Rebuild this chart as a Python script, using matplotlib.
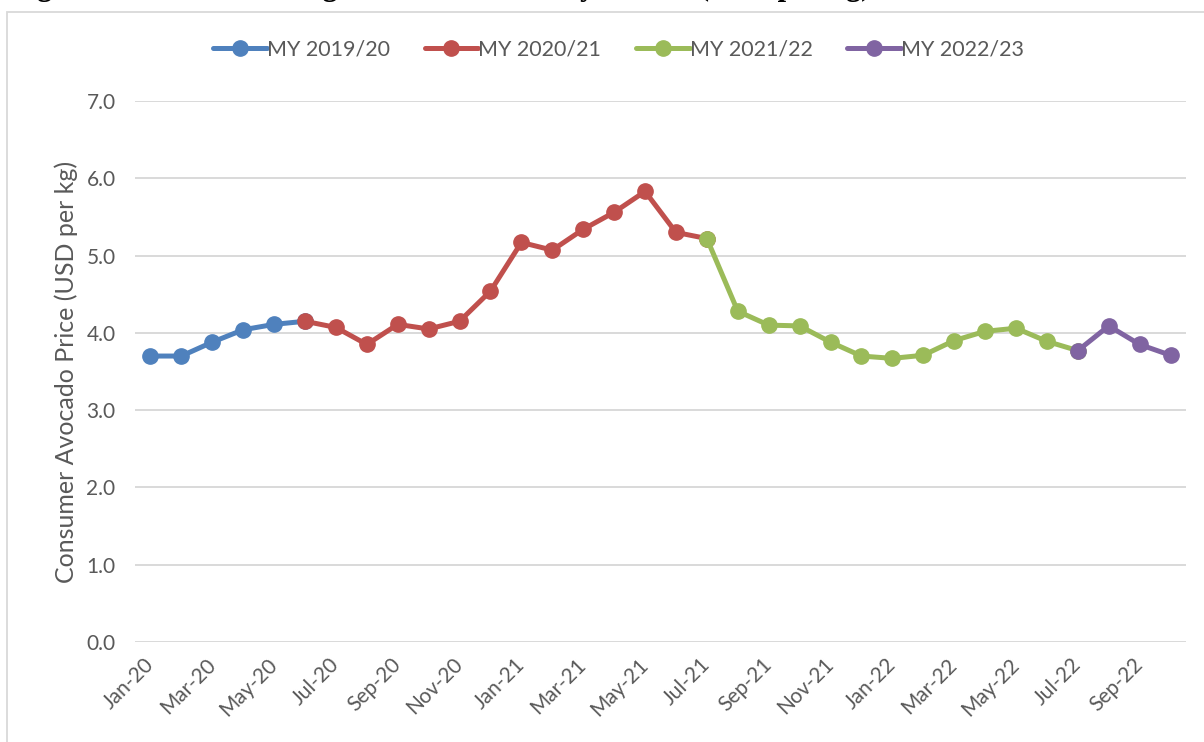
import numpy as np
import matplotlib.pyplot as plt
import matplotlib.transforms as mtransforms
from matplotlib.patches import Rectangle

plt.rcParams['font.family'] = ['Lato', 'DejaVu Sans']

# months Jan-20 .. Oct-22
months = ['Jan-20', 'Feb-20', 'Mar-20', 'Apr-20', 'May-20', 'Jun-20', 'Jul-20', 'Aug-20',
          'Sep-20', 'Oct-20', 'Nov-20', 'Dec-20', 'Jan-21', 'Feb-21', 'Mar-21', 'Apr-21',
          'May-21', 'Jun-21', 'Jul-21', 'Aug-21', 'Sep-21', 'Oct-21', 'Nov-21', 'Dec-21',
          'Jan-22', 'Feb-22', 'Mar-22', 'Apr-22', 'May-22', 'Jun-22', 'Jul-22', 'Aug-22',
          'Sep-22', 'Oct-22']

# consumer price per marketing year (USD per kg); each year starts on the last month of the previous one
my_2019_20 = [3.70, 3.70, 3.88, 4.04, 4.11, 4.15]
my_2020_21 = [4.15, 4.07, 3.85, 4.11, 4.05, 4.15, 4.54, 5.17, 5.07, 5.34, 5.56, 5.83, 5.30, 5.22]
my_2021_22 = [5.22, 4.28, 4.10, 4.09, 3.88, 3.70, 3.67, 3.71, 3.90, 4.02, 4.06, 3.89, 3.77]
my_2022_23 = [3.77, 4.09, 3.85, 3.71]

series_labels = ['MY 2019/20', 'MY 2020/21', 'MY 2021/22', 'MY 2022/23']
series_values = [my_2019_20, my_2020_21, my_2021_22, my_2022_23]
series_start = ['Jan-20', 'Jun-20', 'Jul-21', 'Jul-22']
colors = ['#4F81BD', '#C0504D', '#9BBB59', '#8064A2']

fig = plt.figure(figsize=(12.04, 7.42), dpi=100)
ax = fig.add_axes([135 / 1204, 1 - 642 / 742, (1186 - 135) / 1204, (642 - 101) / 742])

for lab, vals, start, c in zip(series_labels, series_values, series_start, colors):
    i0 = months.index(start)
    x = np.arange(i0, i0 + len(vals))
    ax.plot(x, vals, color=c, lw=3.6, marker='o', ms=11, label=lab, solid_capstyle='round')

ax.set_xlim(-0.5, len(months) - 0.5)
ax.set_ylim(0, 7)
ax.set_yticks(np.arange(0, 7.1, 1.0))
ax.set_yticklabels([f'{v:.1f}' for v in np.arange(0, 7.1, 1.0)])
ax.set_xticks(np.arange(0, len(months), 2))
ax.set_xticklabels(months[::2], rotation=45, ha='right', va='center', rotation_mode='anchor')
shift = mtransforms.ScaledTranslation(8 / 100, -2 / 100, fig.dpi_scale_trans)
for t in ax.get_xticklabels():
    t.set_transform(t.get_transform() + shift)
ax.grid(axis='y', color='#D9D9D9', lw=1.4)
ax.set_axisbelow(True)
for s in ax.spines.values():
    s.set_visible(False)
ax.tick_params(axis='both', length=0, colors='#595959', labelsize=15)
ax.tick_params(axis='y', pad=14)
ax.tick_params(axis='x', pad=14)
ax.set_ylabel('Consumer Avocado Price (USD per kg)', fontsize=18, color='#595959', labelpad=6)

ax.legend(loc='upper center', bbox_to_anchor=(0.46, 1.15), ncol=4, frameon=False,
          fontsize=15.5, labelcolor='#595959', handlelength=2.5, handletextpad=0.0,
          columnspacing=1.6)

# chart border
fig.patches.append(Rectangle((6.5 / 1204, -0.05), 1.2, 1.05 - 12 / 742, transform=fig.transFigure,
                             fill=False, ec='#D9D9D9', lw=1.3))

# title, mostly cut off by the top of the image
fig.text(10 / 1204, 1 + 5 / 742, 'Figure 1. Mexico: Average Avocado Prices by Month (USD per kg)',
         fontsize=22, fontweight='bold', family=['Liberation Serif'], va='baseline')

fig.savefig('out.png', dpi=100)
